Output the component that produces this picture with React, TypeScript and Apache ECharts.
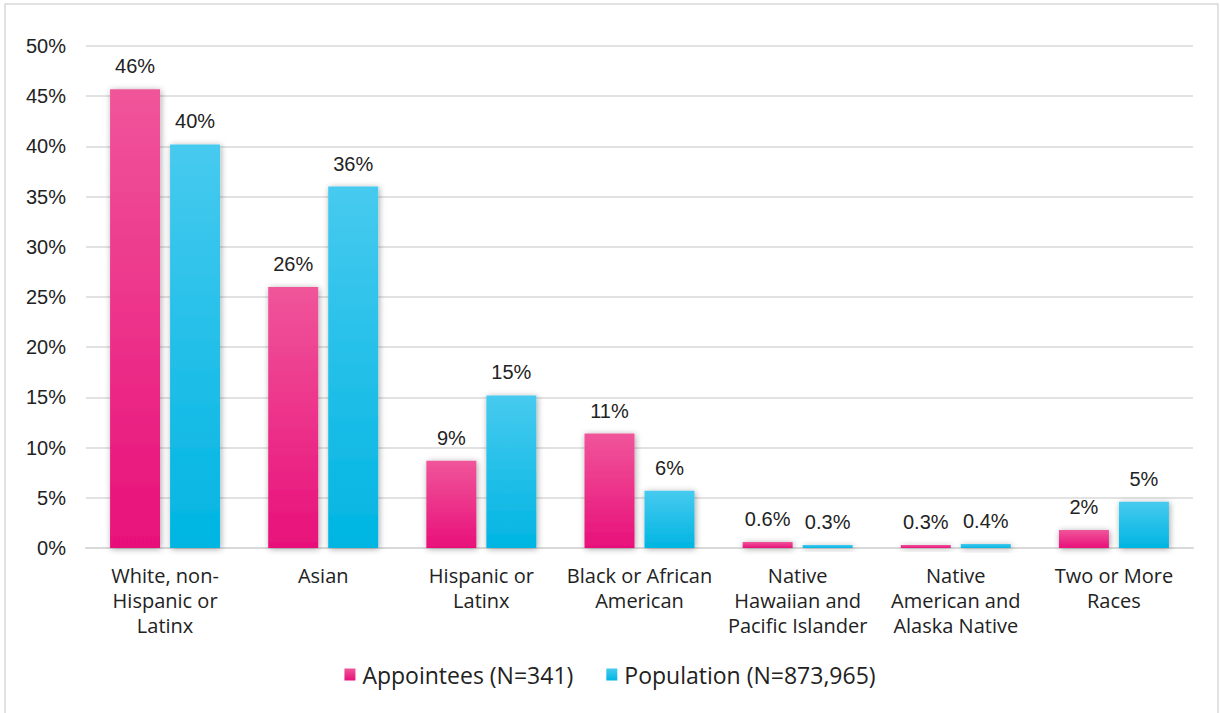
import React, { useEffect, useRef } from "react";
import * as echarts from "echarts";

const categories = [
  "White, non-\nHispanic or\nLatinx",
  "Asian",
  "Hispanic or\nLatinx",
  "Black or African\nAmerican",
  "Native\nHawaiian and\nPacific Islander",
  "Native\nAmerican and\nAlaska Native",
  "Two or More\nRaces",
];
const appointees = [45.7, 26.0, 8.7, 11.4, 0.6, 0.3, 1.8];
const population = [40.2, 36.0, 15.2, 5.7, 0.3, 0.4, 4.6];
const seriesNames = ["Appointees (N=341)", "Population (N=873,965)"];

const fmt = (v: number) => (v < 1 ? v.toFixed(1) : Math.round(v).toString()) + "%";

export default function App() {
  const ref = useRef<HTMLDivElement>(null);
  useEffect(() => {
    const chart = echarts.init(ref.current!, null, { renderer: "svg" });
    const grad = (top: string, bottom: string) =>
      new echarts.graphic.LinearGradient(0, 0, 0, 1, [
        { offset: 0, color: top },
        { offset: 1, color: bottom },
      ]);
    const pink = grad("#F0559A", "#E8107A");
    const cyan = grad("#47CAEF", "#00B5E2");
    const labelCfg = {
      show: true,
      position: "top",
      distance: 13,
      fontFamily: "Liberation Sans, Arial, sans-serif",
      fontSize: 20,
      color: "#222",
      formatter: (p: any) => fmt(p.value),
    };
    const itemBase = {
      shadowBlur: 6,
      shadowColor: "rgba(0,0,0,0.35)",
      shadowOffsetX: 1,
      shadowOffsetY: 1,
    };
    chart.setOption({
      animation: false,
      graphic: [
        {
          type: "rect",
          shape: { x: 5, y: 4, width: 1213, height: 720 },
          style: { fill: "none", stroke: "#d9d9d9", lineWidth: 1.5 },
          silent: true,
        },
      ],
      grid: { left: 86, right: 27, top: 46, bottom: 165 },
      legend: {
        bottom: 22,
        left: "center",
        itemWidth: 11,
        itemHeight: 12,
        itemGap: 33,
        icon: "rect",
        textStyle: { fontFamily: "Open Sans, sans-serif", fontSize: 23, color: "#222", padding: [0, 0, 0, 2] },
        data: seriesNames,
      },
      xAxis: {
        type: "category",
        data: categories,
        axisLine: { show: true, lineStyle: { color: "#d9d9d9", width: 2 } },
        axisTick: { show: false },
        axisLabel: {
          interval: 0,
          margin: 15,
          fontFamily: "Open Sans, sans-serif",
          fontSize: 20,
          lineHeight: 25,
          color: "#222",
        },
      },
      yAxis: {
        type: "value",
        min: 0,
        max: 50,
        interval: 5,
        axisLine: { show: false },
        axisTick: { show: false },
        axisLabel: {
          formatter: "{value}%",
          fontFamily: "Liberation Sans, Arial, sans-serif",
          fontSize: 20,
          color: "#222",
          margin: 20,
        },
        splitLine: { lineStyle: { color: "#d9d9d9", width: 1.5 } },
      },
      series: [
        {
          name: seriesNames[0],
          type: "bar",
          data: appointees,
          barWidth: 50,
          barGap: "20%",
          itemStyle: { ...itemBase, color: pink },
          label: labelCfg,
        },
        {
          name: seriesNames[1],
          type: "bar",
          data: population,
          barWidth: 50,
          itemStyle: { ...itemBase, color: cyan },
          label: labelCfg,
        },
      ],
    });
    return () => chart.dispose();
  }, []);
  return (
    <div
      ref={ref}
      style={{ position: "absolute", left: 0, top: 0, width: 1220, height: 713, background: "#fff" }}
    />
  );
}
